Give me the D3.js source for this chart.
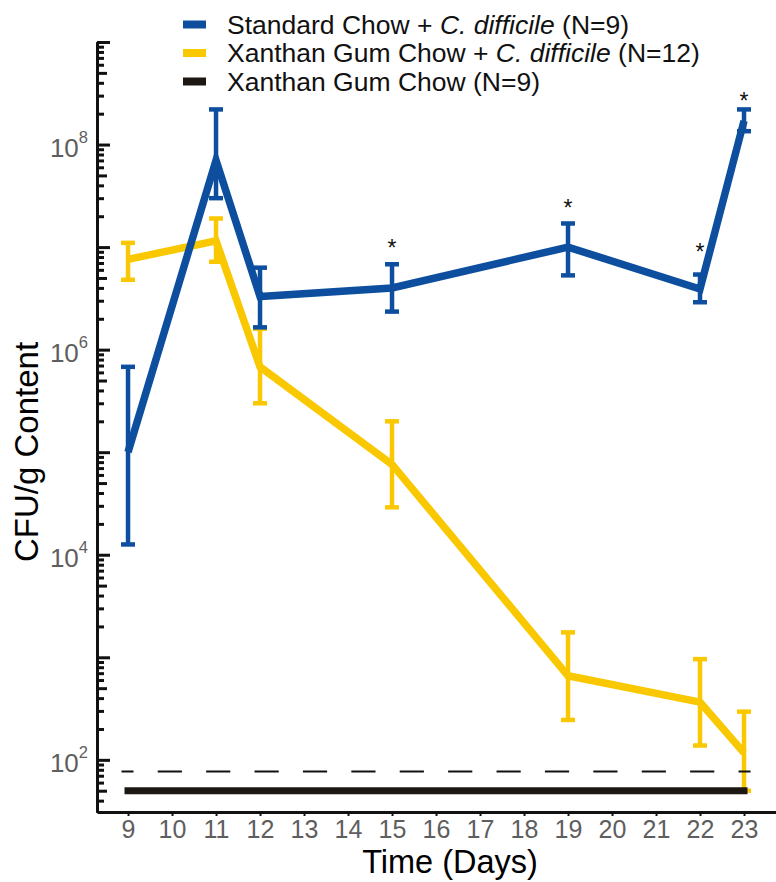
<!DOCTYPE html>
<html>
<head>
<meta charset="utf-8">
<script src="https://cdn.jsdelivr.net/npm/d3@7"></script>
<style>
  body { margin: 0; background: #fff; }
  svg { display: block; }
  text { font-family: "Liberation Sans", Arial, sans-serif; }
</style>
</head>
<body>
<svg id="chart" width="776" height="882"></svg>
<script>
// ---- data (CFU per gram of content, by day) ----
const days = [9, 11, 12, 15, 19, 22, 23];
const xTickDays = d3.range(9, 24);

// Standard Chow + C. difficile
const stdMean  = [1.0e5, 7.0e7, 3.3e6, 4.0e6, 1.0e7, 3.9e6, 1.7e8];
const stdUpper = [6.8e5, 2.2e8, 6.3e6, 6.8e6, 1.7e7, 5.4e6, 2.2e8];
const stdLower = [1.26e4, 3.0e7, 1.65e6, 2.35e6, 5.3e6, 2.9e6, 1.35e8];

// Xanthan Gum Chow + C. difficile
const xgMean  = [7.6e6, 1.15e7, 6.8e5, 7.6e4, 660, 365, 117];
const xgUpper = [1.1e7, 1.9e7, 1.6e6, 2.0e5, 1750, 960, 295];
const xgLower = [4.8e6, 7.2e6, 3.0e5, 2.9e4, 245, 138, 50];

// Xanthan Gum Chow, uninfected
const xgOnlyMean = [50, 50, 50, 50, 50, 50, 50];

// limit of detection
const detectionLimit = 77;

// significance markers
const sigDays = [15, 19, 22, 23];
const sigMarkerAt = [1.1e7, 2.7e7, 1.0e7, 3.0e8];

// axis labels
const yLabelPowers = [2, 4, 6, 8];
const legendItems = [
  { parts: [["Standard Chow + ", false], ["C. difficile", true], [" (N=9)", false]], color: "#0d4f9e" },
  { parts: [["Xanthan Gum Chow + ", false], ["C. difficile", true], [" (N=12)", false]], color: "#fac800" },
  { parts: [["Xanthan Gum Chow (N=9)", false]], color: "#1c1712" }
];

const BLUE = "#0d4f9e", YELLOW = "#fac800", BLACK = "#1c1712", GREY = "#5e5e5e";

const svg = d3.select("#chart");

const x = d3.scaleLinear().domain([8.295, 23.727]).range([97, 776]);
const y = d3.scaleLog().domain([31, 1e9]).range([812, 42]);

// ---- y axis: major, half-decade and minor ticks pointing inward ----
const majorVals = d3.range(2, 10).map(p => Math.pow(10, p));
const halfVals = d3.range(1, 9).map(p => 5 * Math.pow(10, p)).filter(v => v >= 31 && v <= 1e9);
const minorVals = [];
d3.range(1, 9).forEach(p => [2, 3, 4, 6, 7, 8, 9].forEach(m => {
  const v = m * Math.pow(10, p);
  if (v >= 31 && v <= 1e9) minorVals.push(v);
}));

const yAxisG = svg.append("g").attr("transform", "translate(97,0)");
yAxisG.append("g").call(d3.axisLeft(y).tickValues(minorVals).tickSizeInner(-7).tickSizeOuter(0).tickFormat(""));
yAxisG.append("g").call(d3.axisLeft(y).tickValues(halfVals).tickSizeInner(-10).tickSizeOuter(0).tickFormat(""));
yAxisG.append("g").call(d3.axisLeft(y).tickValues(majorVals).tickSizeInner(-13).tickSizeOuter(0).tickFormat(""));
yAxisG.selectAll(".domain").attr("stroke", "#111").attr("stroke-width", 3);
yAxisG.selectAll(".tick line").attr("stroke", "#111").attr("stroke-width", 3);

// powers-of-ten labels
yLabelPowers.forEach(p => {
  const t = svg.append("text")
    .attr("x", 88)
    .attr("y", y(Math.pow(10, p)) + 12)
    .attr("text-anchor", "end")
    .attr("fill", GREY)
    .attr("font-size", 26);
  t.append("tspan").text("10");
  t.append("tspan").attr("dy", -14).attr("font-size", 16.5).text(p);
});

// ---- x axis ----
const xAxisG = svg.append("g").attr("transform", "translate(0,812)")
  .call(d3.axisBottom(x).tickValues(xTickDays).tickSizeInner(4).tickSizeOuter(0).tickPadding(4));
xAxisG.select(".domain").attr("stroke", "#111").attr("stroke-width", 3);
xAxisG.selectAll(".tick line").attr("stroke", "#111").attr("stroke-width", 2);
xAxisG.selectAll(".tick text").attr("fill", GREY).attr("font-size", 25)
  .attr("font-family", "'Liberation Sans', Arial, sans-serif");

// ---- axis titles ----
svg.append("text")
  .attr("transform", "translate(38,452) rotate(-90)")
  .attr("text-anchor", "middle")
  .attr("font-size", 33)
  .attr("fill", "#000")
  .text("CFU/g Content");

svg.append("text")
  .attr("x", 450).attr("y", 873)
  .attr("text-anchor", "middle")
  .attr("font-size", 32.5)
  .attr("fill", "#000")
  .text("Time (Days)");

// ---- series ----
const line = d3.line().x(d => x(d.day)).y(d => y(d.mean));

function drawSeries(mean, upper, lower, color) {
  const pts = days.map((d, i) => ({ day: d, mean: mean[i], upper: upper[i], lower: lower[i] }));
  const g = svg.append("g");
  g.append("path").datum(pts)
    .attr("d", line)
    .attr("fill", "none")
    .attr("stroke", color)
    .attr("stroke-width", 7.5)
    .attr("stroke-linejoin", "miter");
  const eb = g.selectAll(".eb").data(pts).enter().append("g");
  eb.append("line")
    .attr("x1", d => x(d.day)).attr("x2", d => x(d.day))
    .attr("y1", d => y(d.upper)).attr("y2", d => y(d.lower))
    .attr("stroke", color).attr("stroke-width", 4.5);
  ["upper", "lower"].forEach(k => {
    eb.append("line")
      .attr("x1", d => x(d.day) - 7).attr("x2", d => x(d.day) + 7)
      .attr("y1", d => y(d[k])).attr("y2", d => y(d[k]))
      .attr("stroke", color).attr("stroke-width", 4.5);
  });
}

drawSeries(xgMean, xgUpper, xgLower, YELLOW);
drawSeries(stdMean, stdUpper, stdLower, BLUE);

// detection limit
svg.append("line")
  .attr("x1", x(9) - 6.5).attr("x2", x(23) + 6.5)
  .attr("y1", y(detectionLimit)).attr("y2", y(detectionLimit))
  .attr("stroke", "#111").attr("stroke-width", 2.2)
  .attr("stroke-dasharray", "24.2,24.2")
  .attr("stroke-dashoffset", 12.2);

// uninfected xanthan gum group
svg.append("path")
  .datum(days.map((d, i) => ({ day: d, mean: xgOnlyMean[i] })))
  .attr("d", line)
  .attr("fill", "none")
  .attr("stroke", BLACK)
  .attr("stroke-width", 7)
  .attr("stroke-linecap", "square");

// significance asterisks
sigDays.forEach((d, i) => {
  svg.append("text")
    .attr("x", x(d)).attr("y", y(sigMarkerAt[i]) + 13)
    .attr("text-anchor", "middle")
    .attr("font-size", 23)
    .attr("fill", "#111")
    .text("*");
});

// ---- legend ----
const legend = svg.append("g");
legendItems.forEach((item, i) => {
  const cy = 24.5 + i * 28.5;
  legend.append("line")
    .attr("x1", 183).attr("x2", 206)
    .attr("y1", cy).attr("y2", cy)
    .attr("stroke", item.color).attr("stroke-width", 8);
  const t = legend.append("text")
    .attr("x", 227).attr("y", cy + 9)
    .attr("font-size", 26.5)
    .attr("fill", "#111");
  item.parts.forEach(([s, it]) => {
    t.append("tspan").attr("font-style", it ? "italic" : "normal").text(s);
  });
});
</script>
</body>
</html>
